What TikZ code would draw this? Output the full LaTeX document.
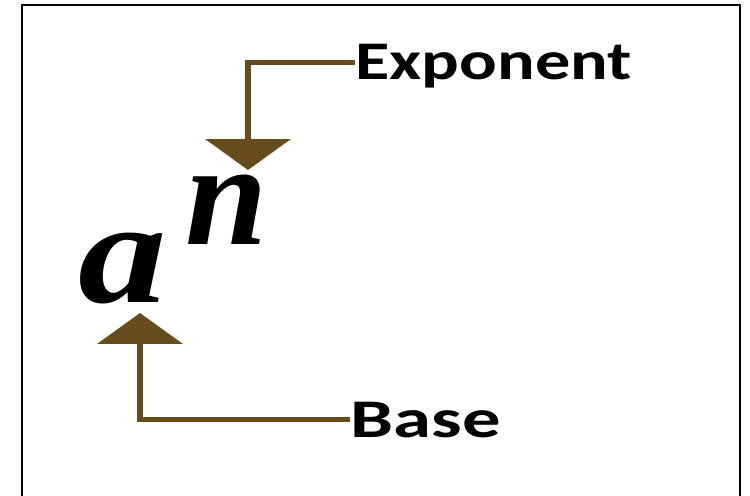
\documentclass[tikz,border=0pt]{standalone}
\usepackage{fontspec}
\setmainfont{Liberation Serif}
\newfontfamily\labelfont{Carlito}
\usetikzlibrary{arrows.meta,positioning}
\definecolor{arrowbrown}{RGB}{102,76,28}

\begin{document}
\begin{tikzpicture}[
  x=0.02cm, y=-0.02cm,
  label text/.style={inner sep=0pt, text height=0.7cm, text depth=0pt,
    font=\labelfont\bfseries\fontsize{31}{31}\selectfont},
  power letter/.style={inner sep=0pt, font=\bfseries\itshape\fontsize{84}{84}\selectfont},
  pointer/.style={draw=arrowbrown, line width=0.11cm,
    -{Triangle[width=1.7cm, length=0.62cm]}}
]
\useasboundingbox (0,0) rectangle (750,496);
% frame
\draw[line width=0.04cm] (22,497) -- (22,5) -- (740,5) -- (740,497);

% the power
\node[power letter, anchor=base west] (basesym) at (78,303) {\scalebox{1.2}[1]{a}};
\node[power letter, anchor=base west] (exposym) at (185,245) {n};

% labels
\node[label text, anchor=base west] (exptext) at (355,80) {\scalebox{1.29}[1]{Exponent}};
\node[label text, anchor=base west] (basetext) at (350,437) {\scalebox{1.41}[1]{Base}};

% arrow tips
\coordinate (exptip) at (248,170);
\coordinate (basetip) at (140,313);

\draw[pointer] (exptext.west) -| (exptip);
\draw[pointer] (basetext.west) -| (basetip);
\end{tikzpicture}
\end{document}
